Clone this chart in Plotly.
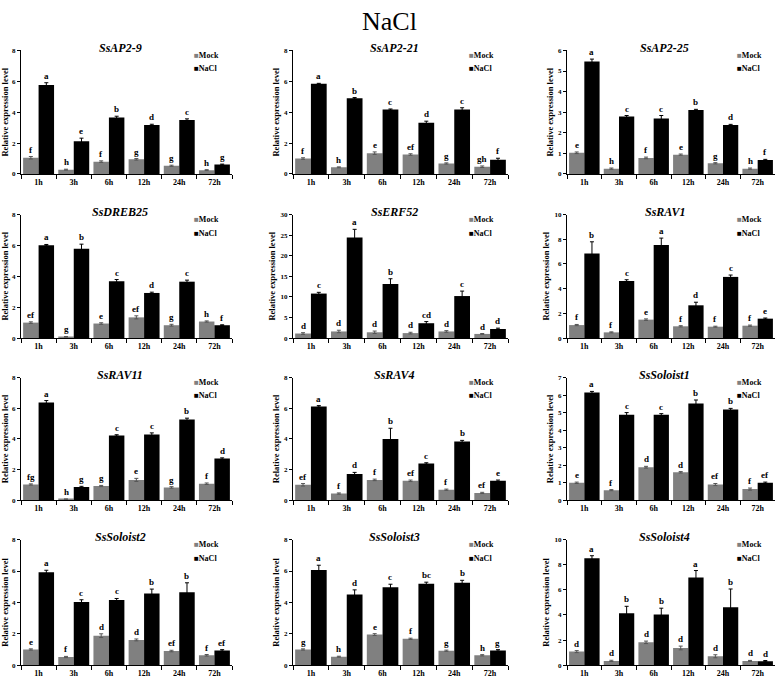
import plotly.graph_objects as go
from plotly.subplots import make_subplots

times = ["1h", "3h", "6h", "12h", "24h", "72h"]
genes = ["SsAP2-9", "SsAP2-21", "SsAP2-25", "SsDREB25", "SsERF52", "SsRAV1",
         "SsRAV11", "SsRAV4", "SsSoloist1", "SsSoloist2", "SsSoloist3", "SsSoloist4"]

mock_values = [
    [1.05, 0.28, 0.80, 0.95, 0.53, 0.25],
    [1.00, 0.43, 1.35, 1.26, 0.68, 0.47],
    [1.03, 0.26, 0.78, 0.94, 0.52, 0.26],
    [1.00, 0.08, 0.94, 1.34, 0.83, 1.07],
    [1.1, 1.6, 1.4, 1.2, 1.6, 1.0],
    [1.05, 0.46, 1.49, 0.95, 0.92, 1.00],
    [1.02, 0.06, 0.92, 1.32, 0.83, 1.07],
    [1.00, 0.43, 1.32, 1.26, 0.68, 0.47],
    [0.99, 0.57, 1.88, 1.59, 0.89, 0.63],
    [1.00, 0.52, 1.88, 1.61, 0.90, 0.63],
    [1.00, 0.54, 1.95, 1.68, 0.92, 0.63],
    [1.08, 0.34, 1.82, 1.37, 0.71, 0.34],
]
nacl_values = [
    [5.76, 2.12, 3.66, 3.17, 3.49, 0.61],
    [5.84, 4.90, 4.17, 3.32, 4.17, 0.92],
    [5.46, 2.79, 2.69, 3.11, 2.38, 0.68],
    [6.01, 5.78, 3.67, 2.92, 3.65, 0.83],
    [10.8, 24.4, 13.1, 3.6, 10.2, 2.2],
    [6.84, 4.62, 7.54, 2.65, 4.95, 1.57],
    [6.38, 0.85, 4.22, 4.29, 5.27, 2.71],
    [6.12, 1.71, 3.99, 2.39, 3.82, 1.26],
    [6.15, 4.88, 4.88, 5.52, 5.18, 0.99],
    [5.93, 4.02, 4.15, 4.57, 4.65, 0.94],
    [6.07, 4.50, 4.96, 5.19, 5.26, 0.94],
    [8.52, 4.14, 4.04, 6.99, 4.62, 0.32],
]
mock_errors = [
    [0.08, 0.03, 0.05, 0.05, 0.04, 0.03],
    [0.05, 0.03, 0.08, 0.05, 0.04, 0.05],
    [0.04, 0.03, 0.04, 0.03, 0.03, 0.03],
    [0.05, 0.02, 0.05, 0.10, 0.06, 0.04],
    [0.2, 0.3, 0.3, 0.2, 0.2, 0.1],
    [0.05, 0.04, 0.06, 0.05, 0.04, 0.05],
    [0.04, 0.02, 0.04, 0.10, 0.05, 0.05],
    [0.08, 0.04, 0.05, 0.05, 0.04, 0.04],
    [0.04, 0.03, 0.05, 0.04, 0.06, 0.06],
    [0.04, 0.04, 0.12, 0.06, 0.05, 0.05],
    [0.04, 0.03, 0.06, 0.04, 0.04, 0.04],
    [0.08, 0.05, 0.10, 0.15, 0.12, 0.04],
]
nacl_errors = [
    [0.15, 0.20, 0.08, 0.05, 0.08, 0.03],
    [0.03, 0.05, 0.04, 0.10, 0.12, 0.10],
    [0.12, 0.05, 0.15, 0.03, 0.03, 0.03],
    [0.05, 0.30, 0.12, 0.05, 0.10, 0.03],
    [0.3, 2.0, 1.3, 0.4, 1.2, 0.2],
    [0.95, 0.10, 0.55, 0.25, 0.15, 0.05],
    [0.12, 0.05, 0.05, 0.10, 0.08, 0.05],
    [0.05, 0.10, 0.70, 0.05, 0.08, 0.05],
    [0.06, 0.12, 0.06, 0.20, 0.06, 0.04],
    [0.12, 0.15, 0.10, 0.28, 0.60, 0.05],
    [0.30, 0.30, 0.20, 0.10, 0.15, 0.05],
    [0.20, 0.55, 0.50, 0.55, 1.45, 0.05],
]
mock_letters = [
    ["f", "h", "f", "g", "g", "h"],
    ["f", "h", "e", "ef", "g", "gh"],
    ["e", "h", "f", "e", "g", "h"],
    ["ef", "g", "e", "ef", "g", "h"],
    ["d", "d", "d", "d", "d", "d"],
    ["f", "f", "e", "f", "f", "f"],
    ["fg", "h", "g", "e", "g", "f"],
    ["ef", "f", "f", "ef", "f", "ef"],
    ["e", "f", "d", "d", "ef", "f"],
    ["e", "f", "d", "d", "ef", "f"],
    ["g", "h", "e", "f", "g", "h"],
    ["d", "d", "d", "d", "d", "d"],
]
nacl_letters = [
    ["a", "e", "b", "d", "c", "g"],
    ["a", "b", "c", "d", "c", "f"],
    ["a", "c", "c", "b", "d", "f"],
    ["a", "b", "c", "d", "c", "f"],
    ["c", "a", "b", "cd", "c", "d"],
    ["b", "c", "a", "d", "c", "e"],
    ["a", "g", "c", "c", "b", "d"],
    ["a", "d", "b", "c", "b", "e"],
    ["a", "c", "c", "b", "b", "ef"],
    ["a", "c", "c", "b", "b", "ef"],
    ["a", "d", "c", "bc", "b", "g"],
    ["a", "b", "b", "a", "b", "d"],
]
y_max = [8, 8, 6, 8, 30, 10, 8, 8, 7, 8, 8, 10]
y_step = [2, 2, 1, 2, 5, 2, 2, 2, 1, 2, 2, 2]

W, H = 778, 684
col_px = [(21, 232), (293, 508), (567, 775)]
row_px = [(47, 172), (213, 338), (378, 502), (542, 669)]
FONT = "Liberation Serif, Times New Roman, serif"
MOCK_COLOR = "#808080"

fig = make_subplots(rows=4, cols=3)
bar_gap = 0.12
half = (1 - bar_gap) / 4

for k, gene in enumerate(genes):
    r, c = k // 3, k % 3
    n = k + 1
    fig.add_trace(go.Bar(x=times, y=mock_values[k], name="Mock", marker_color=MOCK_COLOR,
                         marker_line_width=0, showlegend=False,
                         error_y=dict(type="data", array=mock_errors[k], color="#555555",
                                      thickness=1, width=2)), row=r + 1, col=c + 1)
    fig.add_trace(go.Bar(x=times, y=nacl_values[k], name="NaCl", marker_color="black",
                         marker_line_width=0, showlegend=False,
                         error_y=dict(type="data", array=nacl_errors[k], color="black",
                                      thickness=1, width=2)), row=r + 1, col=c + 1)
    xa = "xaxis" if n == 1 else f"xaxis{n}"
    ya = "yaxis" if n == 1 else f"yaxis{n}"
    x0, x1 = col_px[c]
    t, b = row_px[r]
    fig.layout[xa].update(domain=[x0 / W, x1 / W], type="category", showline=True,
                          linecolor="black", linewidth=1, ticks="outside", ticklen=4,
                          tickson="boundaries", tickcolor="black", showgrid=False,
                          tickfont=dict(family=FONT, size=8, color="black", weight="bold"))
    fig.layout[ya].update(domain=[1 - b / H, 1 - t / H], range=[0, y_max[k]], dtick=y_step[k],
                          showline=True, linecolor="black", linewidth=1, ticks="outside",
                          ticklen=3, tickcolor="black", showgrid=False, zeroline=False,
                          tickfont=dict(family=FONT, size=7, color="black", weight="bold"),
                          title=dict(text="<b>Relative expression level</b>", standoff=3,
                                     font=dict(family=FONT, size=8.5, color="black")))
    xr = "x" if n == 1 else f"x{n}"
    yr = "y" if n == 1 else f"y{n}"
    # panel title
    fig.add_annotation(xref=f"{xr} domain", yref=f"{yr} domain", x=0.47, y=1.02,
                       text=f"<b><i>{gene}</i></b>", showarrow=False, yanchor="middle",
                       font=dict(family=FONT, size=12, color="black"))
    # legend
    fig.add_annotation(xref=f"{xr} domain", yref=f"{yr} domain", x=0.81, y=0.96,
                       xanchor="left", yanchor="middle", showarrow=False,
                       text=f"<span style='color:{MOCK_COLOR}'>■</span><b>Mock</b>",
                       font=dict(family=FONT, size=8, color="black"))
    fig.add_annotation(xref=f"{xr} domain", yref=f"{yr} domain", x=0.81, y=0.85,
                       xanchor="left", yanchor="middle", showarrow=False,
                       text="■<b>NaCl</b>",
                       font=dict(family=FONT, size=8, color="black"))
    # significance letters
    for i in range(len(times)):
        fig.add_annotation(xref=xr, yref=yr, x=i - half, y=mock_values[k][i] + mock_errors[k][i],
                           text=f"<b>{mock_letters[k][i]}</b>", showarrow=False, yanchor="bottom",
                           font=dict(family=FONT, size=9, color="black"))
        fig.add_annotation(xref=xr, yref=yr, x=i + half, y=nacl_values[k][i] + nacl_errors[k][i],
                           text=f"<b>{nacl_letters[k][i]}</b>", showarrow=False, yanchor="bottom",
                           font=dict(family=FONT, size=9, color="black"))

fig.add_annotation(xref="paper", yref="paper", x=0.5, y=1 - 18 / H, text="NaCl",
                   showarrow=False, yanchor="middle",
                   font=dict(family=FONT, size=26, color="black"))

fig.update_layout(width=W, height=H, margin=dict(l=0, r=0, t=0, b=0),
                  barmode="group", bargap=bar_gap, bargroupgap=0,
                  plot_bgcolor="white", paper_bgcolor="white",
                  font=dict(family=FONT, color="black"))

fig.write_html("out.html", config={"displayModeBar": False},
               post_script="document.body.style.margin='0';document.body.style.overflow='hidden';")
